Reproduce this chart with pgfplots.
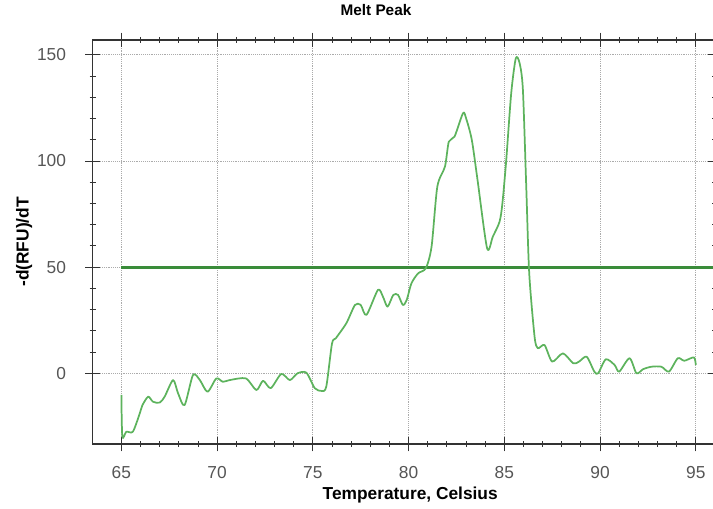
\documentclass[border=0pt]{standalone}
\usepackage{fontspec}
\setmainfont{Liberation Sans}
\usepackage{pgfplots}
\pgfplotsset{compat=1.18}
\definecolor{curve}{HTML}{5DB35D}
\definecolor{thresh}{HTML}{3A8C3A}
\definecolor{axgrey}{HTML}{333333}
\definecolor{lblgrey}{HTML}{555555}
\definecolor{gridgrey}{HTML}{ABABAB}

\begin{document}
\begin{tikzpicture}
\begin{axis}[
  at={(0,0)}, anchor=south west,
  scale only axis,
  width=467pt, height=303pt,
  xmin=63.5, xmax=96.02,
  ymin=-33.3, ymax=157,
  axis line style={axgrey, line width=0.9pt},
  xtick={65,70,...,95},
  ytick={0,50,100,150},
  minor x tick num=4,
  minor y tick num=4,
  tick align=center,
  major tick length=11pt,
  minor tick length=4.5pt,
  tick style={axgrey, line width=0.7pt},
  grid=major,
  major grid style={gridgrey, densely dotted, line width=0.7pt},
  /pgf/number format/assume math mode=true,
  ticklabel style={font=\fontsize{13}{15}\selectfont, text=lblgrey},
  xticklabel style={yshift=-8pt},
  yticklabel style={xshift=-11pt},
  title={\textbf{Melt Peak}},
  title style={font=\fontsize{11.5}{13}\selectfont, at={(axis description cs:0.455,1.054)}, anchor=center},
  xlabel={\textbf{Temperature, Celsius}},
  xlabel style={font=\fontsize{13}{15}\selectfont, at={(axis description cs:0.51,-0.126)}, anchor=center},
  ylabel={\textbf{-d(RFU)/dT}},
  ylabel style={font=\fontsize{13}{15}\selectfont, at={(axis description cs:-0.11,0.5)}, anchor=center, rotate=0},
  clip=false,
]
\addplot[thresh, line width=2.4pt] coordinates {(65,50) (96.02,50)};
\addplot[curve, line width=1.3pt, line join=round, smooth, tension=0.45] coordinates {
(65.0,-10.2) (65.05,-29.9) (65.26,-27.5) (65.6,-27.5) (65.96,-18.9) (66.1,-15)
(66.4,-11) (66.65,-13.4) (67.0,-13.8) (67.26,-11) (67.7,-3.2) (67.96,-9.4)
(68.3,-15) (68.74,-0.8) (69.1,-3.2) (69.5,-8.7) (69.96,-2.4) (70.3,-4)
(70.65,-3.2) (71.5,-2.4) (72.05,-7.9) (72.4,-3.5) (72.8,-7) (73.35,-0.3)
(73.8,-3.2) (74.2,0) (74.66,0.3) (75.1,-7) (75.45,-8.3) (75.7,-6.3)
(76.0,14) (76.2,16.5) (76.75,23.6) (77.2,32.2) (77.5,32.2) (77.8,27.5)
(78.4,39.3) (78.66,36.1) (78.9,31.4) (79.2,36.9) (79.45,36.9) (79.7,32.2)
(79.9,34.5) (80.15,42.4) (80.5,47.1) (80.9,49.5) (81.2,59.7) (81.5,87.9)
(81.9,97.4) (82.1,109.1) (82.4,111.5) (82.84,122.5) (83.0,120.2) (83.3,110)
(83.6,91.1) (84.1,58.9) (84.4,64.4) (84.75,71.4) (84.9,80.1) (85.1,100.5)
(85.36,132) (85.6,148.4) (85.8,146) (85.97,133.5) (86.15,86.4) (86.3,47.1)
(86.58,17.2) (86.75,11.8) (87.1,13.3) (87.5,5.5) (88.06,9.4) (88.6,4.7)
(88.9,5.5) (89.3,7.8) (89.7,0.8) (89.9,0) (90.3,6.6) (90.76,3.9)
(91.0,0.8) (91.54,7.1) (91.9,0) (92.24,1.9) (92.68,3.1) (93.2,3.1)
(93.6,0.8) (94.06,7.1) (94.4,5.9) (94.9,7.5) (95.0,3.9)
};
\end{axis}
\pgfresetboundingbox
\path (-69.5pt,-48.75pt) rectangle (465.25pt,333pt);
\end{tikzpicture}
\end{document}
